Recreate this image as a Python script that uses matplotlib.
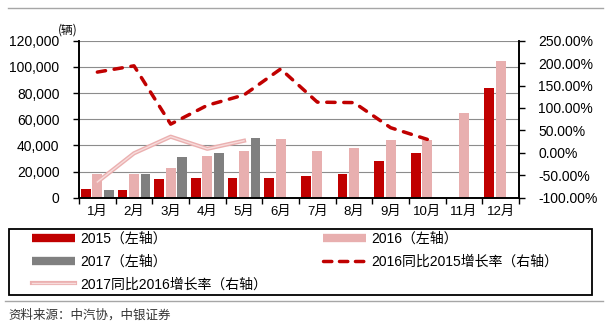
import numpy as np
import matplotlib
matplotlib.use("Agg")
import matplotlib.pyplot as plt
from matplotlib.lines import Line2D
from matplotlib.patches import Rectangle
import matplotlib.patheffects as pe
from matplotlib.ticker import FuncFormatter, FixedLocator

plt.rcParams['font.family'] = ['Liberation Sans', 'Noto Sans CJK SC', 'DejaVu Sans']

months = ['1月', '2月', '3月', '4月', '5月', '6月', '7月', '8月', '9月', '10月', '11月', '12月']
sales_2015 = [6400, 6000, 14000, 15300, 15300, 15300, 16800, 18100, 28300, 34400, np.nan, 83800]
sales_2016 = [18100, 17900, 22900, 31900, 35700, 44600, 35900, 38200, 44100, 43800, 64700, 104200]
sales_2017 = [5900, 17900, 31300, 34400, 45600, np.nan, np.nan, np.nan, np.nan, np.nan, np.nan, np.nan]
growth_16_15 = [180, 194, 64, 106, 129, 187, 113, 112, 56, 30, np.nan, np.nan]
growth_17_16 = [-65, -1, 36, 9, 27, np.nan, np.nan, np.nan, np.nan, np.nan, np.nan, np.nan]

labels = ['2015（左轴）', '2016（左轴）', '2017（左轴）',
          '2016同比2015增长率（右轴）', '2017同比2016增长率（右轴）']

c15, c16, c17 = '#C00000', '#E8AFAF', '#808080'

W, H = 610, 327
fig = plt.figure(figsize=(6.1, 3.27), dpi=100)
ax = fig.add_axes([79 / W, 1 - 197.7 / H, 440 / W, 157 / H])
ax2 = ax.twinx()

x = np.arange(len(months))
bw = 0.265
ax.bar(x - 0.31, sales_2015, bw, color=c15, zorder=2)
ax.bar(x, sales_2016, bw, color=c16, zorder=2)
ax.bar(x + 0.31, sales_2017, bw, color=c17, zorder=2)

ax.set_xlim(-0.5, len(months) - 0.5)
ax.set_ylim(0, 120000)
ax.set_yticks(np.arange(0, 120001, 20000))
ax.yaxis.set_major_formatter(FuncFormatter(lambda v, p: f'{v:,.0f}'))
ax.grid(axis='y', color='#8C8C8C', lw=0.8, zorder=0)
ax.set_axisbelow(True)

ax.xaxis.set_major_locator(FixedLocator(np.arange(-0.5, len(months), 1.0)))
ax.xaxis.set_minor_locator(FixedLocator(x))
ax.set_xticklabels([])
ax.set_xticklabels(months, minor=True)
ax.tick_params(axis='x', which='major', length=4, width=1, direction='out')
ax.tick_params(axis='x', which='minor', length=0, pad=6, labelsize=9.5)
ax.tick_params(axis='y', length=4, width=1, direction='out', pad=10, labelsize=10)

dash = (0, (2.4, 2.5))
ln1, = ax2.plot(x, growth_16_15, color=c15, lw=2.5, dash_capstyle='round',
                linestyle=dash, zorder=5)
pe17 = [pe.Stroke(linewidth=3.0, foreground='#EBB0B0'), pe.Normal()]
ln2, = ax2.plot(x, growth_17_16, color='#F7DCDC', lw=1.0, zorder=4, path_effects=pe17)
ax2.set_ylim(-100, 250)
ax2.set_yticks(np.arange(-100, 251, 50))
ax2.yaxis.set_major_formatter(FuncFormatter(lambda v, p: f'{v:.2f}%'))
ax2.tick_params(axis='y', length=4, width=1, direction='out', pad=10, labelsize=10)

for a in (ax, ax2):
    a.spines['top'].set_visible(False)
    for s in ('left', 'right', 'bottom'):
        a.spines[s].set_color('black')
        a.spines[s].set_linewidth(1.2)

# unit label
fig.text(68 / W, 1 - 30 / H, '(辆)', fontsize=8.5, ha='center', va='center',
         family=['Noto Sans CJK SC', 'DejaVu Sans'])

# legend
h15 = Line2D([], [], color=c15, lw=6, solid_capstyle='butt')
h16 = Line2D([], [], color=c16, lw=6, solid_capstyle='butt')
h17 = Line2D([], [], color=c17, lw=6, solid_capstyle='butt')
hg1 = Line2D([], [], color=c15, lw=2.5, dash_capstyle='round', linestyle=(0, (2.4, 2.2)))
hg2 = Line2D([], [], color='#F7DCDC', lw=1.0, path_effects=pe17)

common = dict(frameon=False, loc='upper left', borderpad=0, borderaxespad=0,
              handlelength=3.1, handletextpad=0.4, labelspacing=0.62, fontsize=10)
leg1 = fig.legend([h15, h17, hg2], [labels[0], labels[2], labels[4]],
                  bbox_to_anchor=(32 / W, 1 - 232 / H), **common)
leg2 = fig.legend([h16, hg1], [labels[1], labels[3]],
                  bbox_to_anchor=(323 / W, 1 - 232 / H), **common)

fig.patches.append(Rectangle((9 / W, 1 - 295 / H), 583 / W, 66 / H, transform=fig.transFigure,
                             fill=False, edgecolor='black', lw=1.3))
fig.add_artist(Line2D([8 / W, 603 / W], [1 - 8 / H, 1 - 8 / H], transform=fig.transFigure,
                      color='#A6A6A6', lw=1))
fig.add_artist(Line2D([5 / W, 603 / W], [1 - 301 / H, 1 - 301 / H], transform=fig.transFigure,
                      color='#A6A6A6', lw=1))
fig.text(8 / W, 1 - 315 / H, '资料来源：中汽协，中银证券', fontsize=9, ha='left', va='center',
         color='#333333', family=['Noto Sans CJK SC', 'DejaVu Sans'])

fig.savefig('out.png', dpi=100)
